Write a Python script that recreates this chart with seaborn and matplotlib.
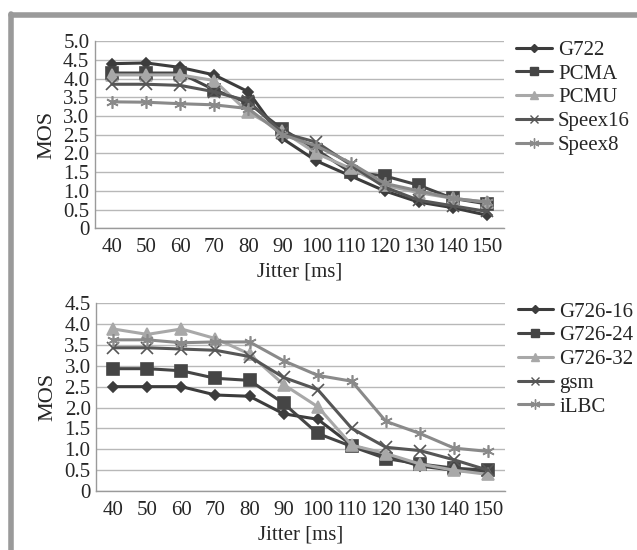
import numpy as np
import pandas as pd
import matplotlib
matplotlib.use("Agg")
import matplotlib.pyplot as plt
import seaborn as sns
from matplotlib.lines import Line2D

jitter = [40, 50, 60, 70, 80, 90, 100, 110, 120, 130, 140, 150]

# top panel
g722 = [4.40, 4.42, 4.30, 4.10, 3.65, 2.40, 1.80, 1.40, 1.00, 0.70, 0.55, 0.35]
pcma = [4.15, 4.15, 4.15, 3.70, 3.35, 2.65, 2.10, 1.50, 1.40, 1.15, 0.80, 0.65]
pcmu = [4.10, 4.10, 4.10, 3.95, 3.10, 2.60, 2.00, 1.60, 1.15, 0.95, 0.80, 0.70]
speex16 = [3.85, 3.85, 3.82, 3.65, 3.40, 2.55, 2.30, 1.70, 1.10, 0.75, 0.60, 0.45]
speex8 = [3.38, 3.37, 3.33, 3.30, 3.20, 2.50, 2.20, 1.75, 1.20, 1.00, 0.80, 0.70]
top_names = ["G722", "PCMA", "PCMU", "Speex16", "Speex8"]

# bottom panel
g726_16 = [2.50, 2.50, 2.50, 2.30, 2.27, 1.85, 1.72, 1.10, 0.85, 0.60, 0.50, 0.45]
g726_24 = [2.93, 2.93, 2.88, 2.70, 2.65, 2.10, 1.38, 1.07, 0.78, 0.65, 0.55, 0.50]
g726_32 = [3.88, 3.75, 3.88, 3.65, 3.28, 2.55, 2.02, 1.10, 0.90, 0.65, 0.50, 0.40]
gsm = [3.43, 3.43, 3.40, 3.37, 3.22, 2.72, 2.43, 1.50, 1.05, 0.97, 0.75, 0.50]
ilbc = [3.62, 3.62, 3.55, 3.57, 3.57, 3.12, 2.77, 2.63, 1.67, 1.38, 1.03, 0.95]
bottom_names = ["G726-16", "G726-24", "G726-32", "gsm", "iLBC"]

colors = ["#3c3c3c", "#454545", "#a8a8a8", "#565656", "#8a8a8a"]
markers = ["D", "s", "^", "x", (6, 2, 0)]
msizes = [5, 8, 8, 8, 9]

sns.set_theme(style="white")
plt.rcParams["font.family"] = ["Liberation Serif", "DejaVu Serif"]
plt.rcParams["font.size"] = 14


def draw_panel(ax, names, series, ymax):
    df = pd.DataFrame({"Jitter": jitter * len(names),
                       "MOS": np.concatenate(series),
                       "codec": np.repeat(names, len(jitter))})
    pal = dict(zip(names, colors))
    sns.lineplot(data=df, x="Jitter", y="MOS", hue="codec", palette=pal,
                 linewidth=2.2, legend=False, ax=ax)
    for line, m, ms, c in zip(ax.get_lines(), markers, msizes, colors):
        line.set_marker(m)
        line.set_markersize(ms)
        line.set_markerfacecolor(c)
        line.set_markeredgecolor(c)
        line.set_markeredgewidth(1.2)
    ax.set_xlim(35, 155)
    ax.set_xticks(jitter)
    ax.set_xticklabels([str(j) for j in jitter])
    ticks = np.arange(0, ymax + 0.01, 0.5)
    ax.set_ylim(0, ymax)
    ax.set_yticks(ticks)
    ax.set_yticklabels(["0"] + [f"{t:.1f}" for t in ticks[1:]])
    ax.yaxis.grid(True, color="#b8b8b8", linewidth=1.0)
    ax.xaxis.grid(False)
    for s in ["top", "right"]:
        ax.spines[s].set_visible(False)
    for s in ["left", "bottom"]:
        ax.spines[s].set_color("#9a9a9a")
        ax.spines[s].set_linewidth(1.0)
    ax.tick_params(axis="y", length=0, labelsize=15, pad=4)
    ax.tick_params(axis="x", length=0, labelsize=15, pad=7)
    ax.set_xlabel("Jitter [ms]", fontsize=15, labelpad=4)
    ax.set_ylabel("MOS", fontsize=16, labelpad=5)
    handles = [Line2D([], [], color=c, lw=2.2, marker=m, markersize=ms * 0.8,
                      markerfacecolor=c, markeredgecolor=c)
               for c, m, ms in zip(colors, markers, msizes)]
    ax.legend(handles, names, loc="upper left", bbox_to_anchor=(1.01, 1.05),
              frameon=False, fontsize=15, handlelength=1.7, handletextpad=0.3,
              labelspacing=0.2, borderaxespad=0)


fig = plt.figure(figsize=(6.37, 5.5), dpi=100)
ax1 = fig.add_axes([0.149, 0.585, 0.642, 0.340])
ax2 = fig.add_axes([0.151, 0.107, 0.642, 0.342])
draw_panel(ax1, top_names, [g722, pcma, pcmu, speex16, speex8], 5.0)
draw_panel(ax2, bottom_names, [g726_16, g726_24, g726_32, gsm, ilbc], 4.5)

# grey frame on top and left
fig.add_artist(Line2D([0.018, 1.0], [0.973, 0.973], color="#9a9a9a", lw=4,
                      transform=fig.transFigure))
fig.add_artist(Line2D([0.018, 0.018], [0.0, 0.975], color="#9a9a9a", lw=4,
                      transform=fig.transFigure))

fig.savefig("out.png", dpi=100)
